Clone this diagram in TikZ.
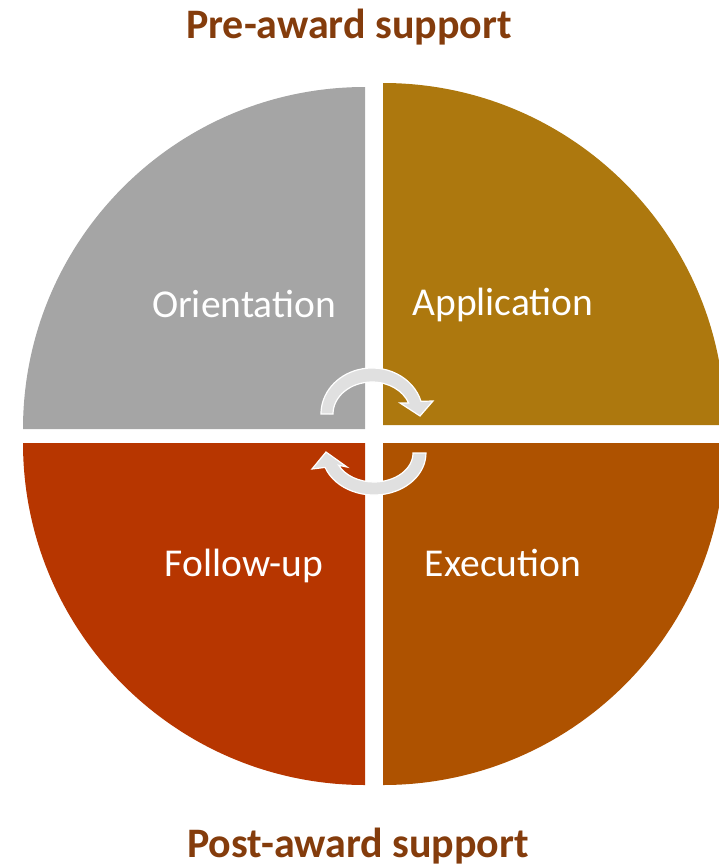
\documentclass[tikz,border=0pt]{standalone}
\usepackage{fontspec}
\setmainfont{Carlito}
\usepackage{tikz}
\usetikzlibrary{positioning}

\definecolor{orientgray}{HTML}{A5A5A5}
\definecolor{applybrown}{HTML}{AD780E}
\definecolor{followred}{HTML}{B73600}
\definecolor{execbrown}{HTML}{AE5200}
\definecolor{titlebrown}{HTML}{843C0C}
\definecolor{cyclegray}{HTML}{E0E0E0}

\begin{document}
\begin{tikzpicture}[x=1pt,y=-1pt,
  label/.style={text=white,font=\fontsize{39.5}{42}\selectfont,anchor=base},
  phase/.style={text=titlebrown,font=\fontsize{42}{44}\selectfont\bfseries,anchor=base},
  cycle/.style={fill=cyclegray,draw=white,line width=1.2pt,line join=miter}]
  \useasboundingbox (0,0) rectangle (719,868);
  \clip (0,0) rectangle (719,868);

  % four quarters of the circle
  \fill[orientgray] (365,429) -- ++(-342,0) arc[start angle=180,end angle=270,radius=342] -- cycle;
  \fill[applybrown] (383,425) -- ++(0,-342) arc[start angle=270,end angle=360,radius=342] -- cycle;
  \fill[followred] (365,443) -- ++(0,342) arc[start angle=90,end angle=180,radius=342] -- cycle;
  \fill[execbrown] (383,443) -- ++(342,0) arc[start angle=0,end angle=90,radius=342] -- cycle;

  % circular arrows in the middle
  \draw[cycle] (333,414) arc[start angle=180,end angle=340,x radius=39,y radius=32]
    -- (400,403) -- (420,416) -- (433,401) -- (421.0,401.3)
    arc[start angle=344,end angle=180,x radius=51,y radius=46] -- cycle;
  \draw[cycle] (413,453) arc[start angle=0,end angle=155,x radius=39,y radius=29]
    -- (347,467) -- (326,452) -- (312,469) -- (325.1,467.4)
    arc[start angle=160,end angle=0,x radius=52,y radius=42] -- cycle;

  \node[label] (orient) at (244,317) {Orientation};
  \node[label] (apply) at (503,315) {Application};
  \node[label] (follow) at (244,576) {Follow-up};
  \node[label] (exec) at (503,576) {Execution};

  \node[phase] (pre) at (349,38) {Pre-award support};
  \node[phase] (post) at (358,857) {Post-award support};
\end{tikzpicture}
\end{document}
